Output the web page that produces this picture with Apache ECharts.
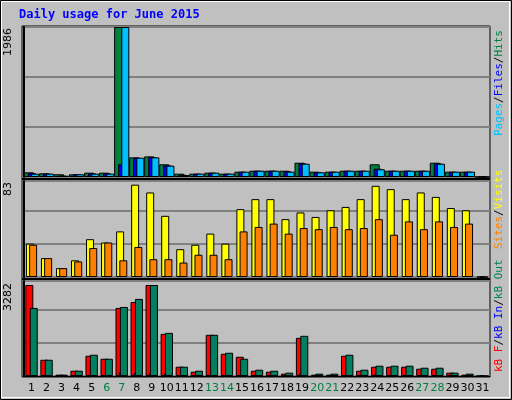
<!DOCTYPE html>
<html><head><meta charset="utf-8">
<script src="https://cdn.jsdelivr.net/npm/echarts@6/dist/echarts.min.js"></script>
<style>html,body{margin:0;padding:0;background:#c0c0c0}#c{width:512px;height:400px}</style>
</head><body><div id="c"></div>
<script>
var days = [];
for (var i = 1; i <= 31; i++) days.push(String(i));
var weekend = ['6', '7', '13', '14', '20', '21', '27', '28'];

var hits  = [62, 49, 36, 36, 57, 57, 1986, 260, 273, 168, 44, 44, 57, 44, 70, 83, 83, 83, 189, 70, 70, 83, 83, 168, 83, 83, 83, 189, 70, 70, 0];
var files = [50, 45, 20, 36, 48, 48, 168, 255, 265, 155, 30, 44, 57, 44, 70, 83, 83, 75, 180, 65, 70, 83, 83, 110, 83, 83, 83, 180, 70, 70, 0];
var pages = [44, 44, 17, 36, 44, 44, 1986, 255, 260, 150, 26, 44, 57, 44, 70, 83, 83, 70, 176, 62, 70, 83, 83, 102, 83, 83, 83, 176, 70, 70, 0];

var visits = [30, 17, 8, 15, 34, 31, 41, 83, 76, 55, 25, 29, 39, 30, 61, 70, 70, 52, 58, 54, 60, 63, 70, 82, 79, 70, 76, 72, 62, 60, 0];
var sites  = [29, 17, 8, 14, 26, 31, 15, 27, 16, 16, 13, 20, 20, 16, 41, 45, 48, 39, 44, 43, 45, 43, 44, 52, 38, 50, 43, 50, 45, 48, 0];

var kbF   = [3282, 586, 48, 190, 730, 622, 2455, 2670, 3282, 1520, 335, 155, 1485, 802, 694, 190, 155, 84, 1377, 48, 48, 730, 190, 335, 335, 335, 263, 263, 120, 48, 0];
var kbIn  = [30, 30, 20, 30, 30, 30, 140, 110, 110, 80, 30, 30, 30, 30, 30, 30, 30, 30, 80, 20, 20, 30, 30, 60, 30, 30, 30, 30, 30, 20, 0];
var kbOut = [2455, 586, 48, 190, 766, 622, 2490, 2780, 3282, 1556, 335, 190, 1485, 838, 622, 227, 190, 120, 1449, 84, 84, 766, 227, 371, 371, 371, 299, 299, 120, 84, 0];

var chart = echarts.init(document.getElementById('c'));
var L = 24, R = 22;
var grids = [
  { left: L, right: R, top: 27, height: 150 },
  { left: L, right: R, top: 181, height: 96 },
  { left: L, right: R, top: 281, height: 95 }
];
var ymax = [1986, 86.3, 3426];
var yint = [662, 29.7, 1190];

function xAxis(i) {
  return {
    type: 'category', gridIndex: i, data: days,
    axisLine: { show: i === 2, lineStyle: { color: '#000' } },
    axisTick: { show: false },
    axisLabel: {
      show: i === 2, interval: 0, fontFamily: 'DejaVu Sans', fontSize: 11, margin: 7,
      color: function (v) { return weekend.indexOf(v) >= 0 ? '#008040' : '#000'; }
    }
  };
}
function yAxis(i) {
  return {
    type: 'value', gridIndex: i, min: 0, max: ymax[i], interval: yint[i],
    axisLine: { show: true, lineStyle: { color: '#000', width: 2 } },
    axisLabel: { show: false }, axisTick: { show: false },
    splitLine: { lineStyle: { color: '#808080', width: 2 } }
  };
}
function bar(name, data, idx, color, w) {
  return {
    name: name, type: 'bar', xAxisIndex: idx, yAxisIndex: idx, data: data,
    barWidth: w, barGap: '-60%', animation: false,
    itemStyle: { color: color, borderColor: '#000', borderWidth: 1 }
  };
}
function vtext(x, y, parts) {
  // rotated label reading upward from (x, y)
  var rich = {}, str = '';
  parts.forEach(function (p, k) {
    rich['s' + k] = { fill: p[1], fontFamily: 'DejaVu Sans Mono', fontSize: 11 };
    str += '{s' + k + '|' + p[0] + '}';
  });
  return { type: 'text', x: x, y: y, rotation: Math.PI / 2,
    style: { text: str, rich: rich, align: 'left', verticalAlign: 'middle' } };
}

chart.setOption({
  backgroundColor: '#c0c0c0',
  grid: grids,
  xAxis: [xAxis(0), xAxis(1), xAxis(2)],
  yAxis: [yAxis(0), yAxis(1), yAxis(2)],
  series: [
    bar('Hits', hits, 0, '#008040', 10),
    bar('Files', files, 0, '#0000ff', 8),
    bar('Pages', pages, 0, '#00c0ff', 8),
    bar('Visits', visits, 1, '#ffff00', 8),
    bar('Sites', sites, 1, '#ff8000', 8),
    bar('KB F', kbF, 2, '#ff0000', 8),
    bar('KB In', kbIn, 2, '#0000ff', 3),
    bar('KB Out', kbOut, 2, '#008060', 8)
  ],
  graphic: [
    { type: 'rect', shape: { x: 0.5, y: 0.5, width: 511, height: 399 }, style: { fill: 'none', stroke: '#000' } },
    { type: 'rect', shape: { x: 1.5, y: 1.5, width: 508, height: 396 }, style: { fill: 'none', stroke: '#fff' } },
    { type: 'rect', shape: { x: 22, y: 26, width: 468, height: 351 }, style: { fill: 'none', stroke: '#000' }, z: -1 },
    { type: 'line', shape: { x1: 22, y1: 179, x2: 490, y2: 179 }, style: { stroke: '#000', lineWidth: 2 } },
    { type: 'line', shape: { x1: 22, y1: 279, x2: 490, y2: 279 }, style: { stroke: '#000', lineWidth: 2 } },
    { type: 'text', x: 19, y: 9, style: { text: 'Daily usage for June 2015', fill: '#0000ff', fontFamily: 'DejaVu Sans Mono', fontSize: 12, fontWeight: 'bold' } },
    { type: 'text', x: 8, y: 28, rotation: Math.PI / 2, style: { text: '1986', fill: '#000', fontFamily: 'DejaVu Sans', fontSize: 11, align: 'right', verticalAlign: 'middle' } },
    { type: 'text', x: 8, y: 182, rotation: Math.PI / 2, style: { text: '83', fill: '#000', fontFamily: 'DejaVu Sans', fontSize: 11, align: 'right', verticalAlign: 'middle' } },
    { type: 'text', x: 8, y: 283, rotation: Math.PI / 2, style: { text: '3282', fill: '#000', fontFamily: 'DejaVu Sans', fontSize: 11, align: 'right', verticalAlign: 'middle' } },
    vtext(499, 136, [['Pages', '#00c0ff'], ['/', '#000'], ['Files', '#0000ff'], ['/', '#000'], ['Hits', '#008040']]),
    vtext(499, 249, [['Sites', '#ff8000'], ['/', '#000'], ['Visits', '#ffff00']]),
    vtext(499, 372, [['kB F', '#ff0000'], ['/', '#000'], ['kB In', '#0000ff'], ['/', '#000'], ['kB Out', '#008060']])
  ]
});
</script></body></html>
